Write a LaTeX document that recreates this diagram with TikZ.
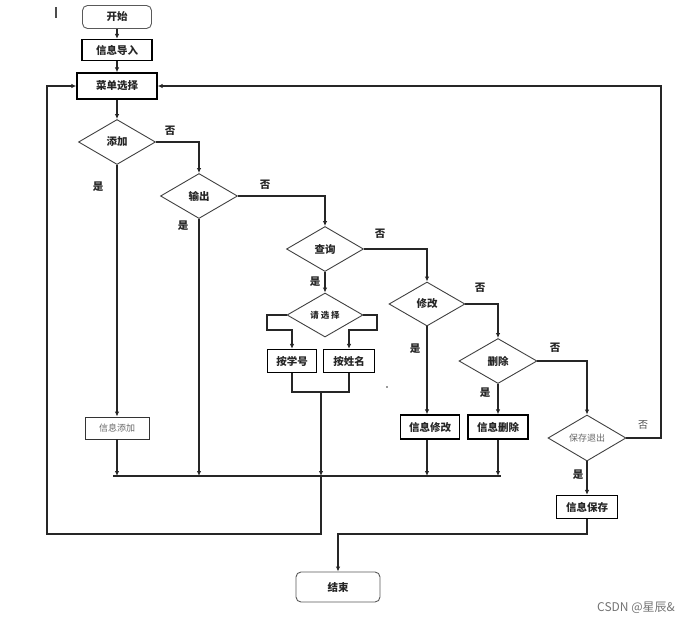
\documentclass[tikz,border=0pt]{standalone}
\usepackage{fontspec}
\newfontfamily\cjk{Noto Sans CJK SC}
\usetikzlibrary{shapes.geometric,arrows.meta}
\begin{document}
\begin{tikzpicture}[x=1pt,y=-1pt,
  txt/.style={font=\cjk\bfseries\fontsize{10.5}{12}\selectfont, text=black!85},
  box/.style={txt, draw=black, line width=1.3pt, inner sep=0pt},
  rbox/.style={txt, draw=black!65, line width=0.9pt, rounded corners=5pt, inner sep=0pt},
  dia/.style={txt, diamond, draw=black!75, line width=0.9pt, inner sep=0pt, minimum width=77pt, minimum height=45pt},
  ln/.style={line width=1.2pt, draw=black!85},
  arr/.style={ln, -{Latex[length=5pt,width=4.5pt]}},
  lab/.style={txt, inner sep=0pt}]
\useasboundingbox (0,0) rectangle (693,624);
\draw[line width=1.6pt, black!70] (56,7) -- (56,18);
% nodes
\node[rbox, minimum width=69pt, minimum height=23pt] (start) at (117,17) {开始};
\node[box, minimum width=70pt, minimum height=21pt] (import) at (117,50) {信息导入};
\node[box, minimum width=80pt, minimum height=26pt] (menu) at (117,86) {菜单选择};
\node[dia] (add) at (117,142) {添加};
\node[dia] (out) at (199,196) {输出};
\node[dia] (query) at (325,249) {查询};
\node[dia, minimum width=76pt, minimum height=44pt, font=\cjk\bfseries\fontsize{8.5}{10}\selectfont] (choose) at (325,315) {请 选 择};
\node[box, minimum width=49pt, minimum height=23pt] (bynum) at (292,361) {按学号};
\node[box, minimum width=51pt, minimum height=23pt] (byname) at (349,361) {按姓名};
\node[dia, minimum width=76pt, minimum height=44pt] (mod) at (427,304) {修改};
\node[dia, minimum width=78pt] (del) at (498,361) {删除};
\node[dia, minimum width=78pt, minimum height=46pt, font=\cjk\fontsize{9}{10}\selectfont, text=black!60] (save) at (587,438) {保存退出};
\node[box, line width=0.9pt, draw=black!80, minimum width=64pt, minimum height=22pt, font=\cjk\fontsize{9}{10}\selectfont, text=black!60] (addbox) at (117,428) {信息添加};
\node[box, minimum width=59pt, minimum height=24pt] (modbox) at (430,427) {信息修改};
\node[box, minimum width=60pt, minimum height=24pt] (delbox) at (498,427) {信息删除};
\node[box, minimum width=61pt, minimum height=23pt] (savebox) at (587,507) {信息保存};
\node[rbox, minimum width=84pt, minimum height=30pt] (end) at (338,587) {结束};
% coordinates
\coordinate (busL) at (113,476);
\coordinate (busR) at (501,476);
\coordinate (busJ) at (321,476);
\coordinate (cl) at (267,330);
\coordinate (cr) at (377,330);
\coordinate (jn) at (321,392);
\coordinate (lb) at (47,534);
\coordinate (eb) at (338,534);
\coordinate (rtop) at (661,86);
% connectors
\draw[arr] (start) -- (import);
\draw[arr] (import) -- (menu);
\draw[arr] (menu) -- (add);
\draw[arr] (add.east) -| (out.north);
\draw[arr] (add.south) -- (addbox.north);
\draw[arr] (addbox.south) -- (addbox.south |- busL);
\draw[ln] (busL) -- (busR);
\draw[arr] (out.south) -- (out.south |- busL);
\draw[arr] (out.east) -| (query.north);
\draw[arr] (query.south) -- (choose.north);
\draw[arr] (choose.west) -| (cl) -| (bynum.north);
\draw[arr] (choose.east) -| (cr) -| (byname.north);
\draw[ln] (bynum.south) |- (jn) -| (byname.south);
\draw[arr] (jn) -- (busJ);
\draw[arr] (busJ) |- (lb) |- (menu.west);
\draw[arr] (query.east) -| (mod.north);
\draw[arr] (mod.south) -- (mod.south |- modbox.north);
\draw[arr] (mod.south |- modbox.south) -- (mod.south |- busL);
\draw[arr] (mod.east) -| (del.north);
\draw[arr] (del.south) -- (delbox.north);
\draw[arr] (delbox.south) -- (delbox.south |- busL);
\draw[arr] (del.east) -| (save.north);
\draw[arr] (save.south) -- (savebox.north);
\draw[arr] (savebox.south) |- (eb) -- (end.north);
\draw[arr] (save.east) -| (rtop) -- (menu.east);
% labels
\node[lab] (l1) at (170,131) {否};
\node[lab] (l2) at (98,187) {是};
\node[lab] (l3) at (265,185) {否};
\node[lab] (l4) at (183,226) {是};
\node[lab] (l5) at (380,234) {否};
\node[lab] (l6) at (315,282) {是};
\node[lab] (l7) at (480,288) {否};
\node[lab] (l8) at (415,349) {是};
\node[lab] (l9) at (555,348) {否};
\node[lab] (l10) at (485,393) {是};
\node[lab, font=\cjk\fontsize{10}{12}\selectfont, text=black!70] (l11) at (643,425) {否};
\node[lab] (l12) at (578,475) {是};
\fill[black!80] (387,387) circle (0.9pt);
\node[font=\cjk\fontsize{12}{14}\selectfont, text=black!55, inner sep=0pt] (wm) at (636,608) {CSDN @星辰\&};
\end{tikzpicture}
\end{document}
